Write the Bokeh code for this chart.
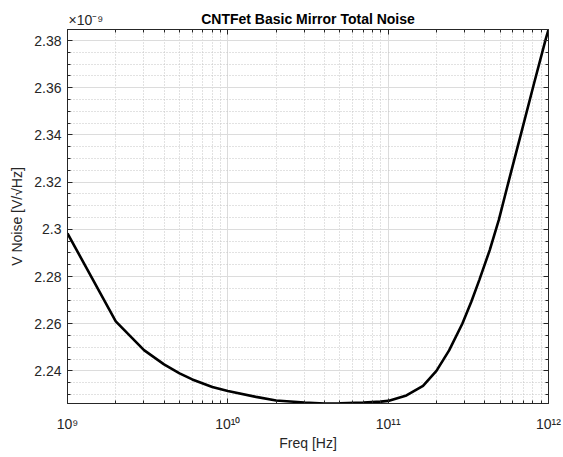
import numpy as np
from bokeh.plotting import figure
from bokeh.models import (Range1d, LogAxis, LinearAxis, FixedTicker,
                          NumeralTickFormatter, Label)
from bokeh.embed import file_html
from bokeh.resources import INLINE

# ---- data ----
freq_hz = [1e9, 2e9, 3e9, 4e9, 5e9, 6e9, 8e9, 1e10, 1.5e10, 2e10, 3e10, 4e10,
           5e10, 7e10, 9e10, 1e11, 1.3e11, 1.65e11, 2e11, 2.4e11, 2.9e11,
           3.3e11, 3.7e11, 4.3e11, 4.9e11, 5.7e11, 6.8e11, 8.1e11, 9.6e11,
           1e12]
noise_e9 = [2.2983, 2.2610, 2.2488, 2.2428, 2.2390, 2.2364, 2.2332, 2.2315,
            2.2290, 2.2275, 2.2266, 2.2262, 2.2263, 2.2266, 2.2270, 2.2273,
            2.2296, 2.2337, 2.2400, 2.2487, 2.2600, 2.2693, 2.2785, 2.2912,
            2.3040, 2.3215, 2.3415, 2.3615, 2.3805, 2.3847]

x_major = [1e9, 1e10, 1e11, 1e12]
x_tick_labels = ["10\u2079", "10\u00b9\u2070", "10\u00b9\u00b9", "10\u00b9\u00b2"]
y_major = [2.24, 2.26, 2.28, 2.30, 2.32, 2.34, 2.36, 2.38]

title_text = "CNTFet Basic Mirror Total Noise"
x_label = "Freq [Hz]"
y_label = "V Noise [V/\u221aHz]"
exp_text = "\u00d710\u207b\u2079"

FONT = "Liberation Sans"
DARK = "#262626"

x_minor = [k * d for d in x_major[:-1] for k in range(2, 10)]
y_minor = [round(y_major[0] - 0.015 + 0.005 * i, 3) for i in range(0, 33)]

xt = FixedTicker(ticks=x_major, minor_ticks=x_minor)
yt = FixedTicker(ticks=y_major, minor_ticks=y_minor)

ymin, ymax = min(noise_e9), max(noise_e9)

W, H = 563, 457
BL, BR, BT, BB = 67, 15, 29, 54

p = figure(width=W, height=H, x_axis_type="log", output_backend="svg",
           toolbar_location=None,
           x_range=Range1d(freq_hz[0], freq_hz[-1]),
           y_range=Range1d(ymin, ymax),
           min_border_left=BL, min_border_right=BR,
           min_border_top=BT, min_border_bottom=BB)
p.background_fill_color = "white"
p.border_fill_color = "white"
p.outline_line_color = DARK
p.outline_line_width = 1

p.line(freq_hz, noise_e9, line_color="black", line_width=2.6)

# title (outermost panel; negative standoff pulls it down into the row
# occupied by the exponent marker so the frame keeps its place)
p.title.text = title_text
p.title.align = "center"
p.title.text_font = FONT
p.title.text_font_size = "14px"
p.title.text_font_style = "bold"
p.title.text_color = "black"
try:
    p.title.standoff = -26
except Exception:
    p.title.standoff = 0

# grids
for g in (p.xgrid, p.ygrid):
    g.grid_line_color = "#dcdcdc"
    g.grid_line_width = 1
    g.minor_grid_line_color = "#c4c4c4"
    g.minor_grid_line_dash = "1 2"
    g.minor_grid_line_width = 1
p.xgrid.ticker = xt
p.ygrid.ticker = yt

def style_axis(ax, show_labels=True):
    ax.axis_line_color = DARK
    ax.major_tick_line_color = DARK
    ax.minor_tick_line_color = DARK
    ax.major_tick_in = 5
    ax.major_tick_out = 0
    ax.minor_tick_in = 3
    ax.minor_tick_out = 0
    ax.major_label_text_font = FONT
    ax.major_label_text_color = DARK
    ax.axis_label_text_font = FONT
    ax.axis_label_text_color = DARK
    ax.axis_label_text_font_style = "normal"
    ax.axis_label_text_font_size = "14px"
    if show_labels:
        ax.major_label_text_font_size = "14px"
    else:
        ax.major_label_text_font_size = "1px"
        ax.major_label_text_alpha = 0
        ax.major_label_standoff = 0

xa = p.xaxis[0]
xa.ticker = xt
xa.major_label_overrides = dict(zip(x_major, x_tick_labels))
style_axis(xa)
xa.major_label_standoff = 12
xa.axis_label = x_label
xa.axis_label_standoff = 0

ya = p.yaxis[0]
ya.ticker = yt
ya.formatter = NumeralTickFormatter(format="0.0[0]")
style_axis(ya)
ya.major_label_standoff = 6
ya.axis_label = y_label
ya.axis_label_standoff = 6

top = LogAxis(ticker=xt)
style_axis(top, show_labels=False)
p.add_layout(top, "above")

right = LinearAxis(ticker=yt)
style_axis(right, show_labels=False)
p.add_layout(right, "right")

# exponent marker above the top-left corner of the frame (side panel => not clipped)
p.add_layout(Label(x=freq_hz[0], y=ymax, x_offset=1, y_offset=2,
                   text=exp_text, text_align="left", text_baseline="bottom",
                   text_font=FONT, text_font_size="14px", text_color=DARK),
             "above")

open("out.html", "w").write(file_html(p, INLINE))
